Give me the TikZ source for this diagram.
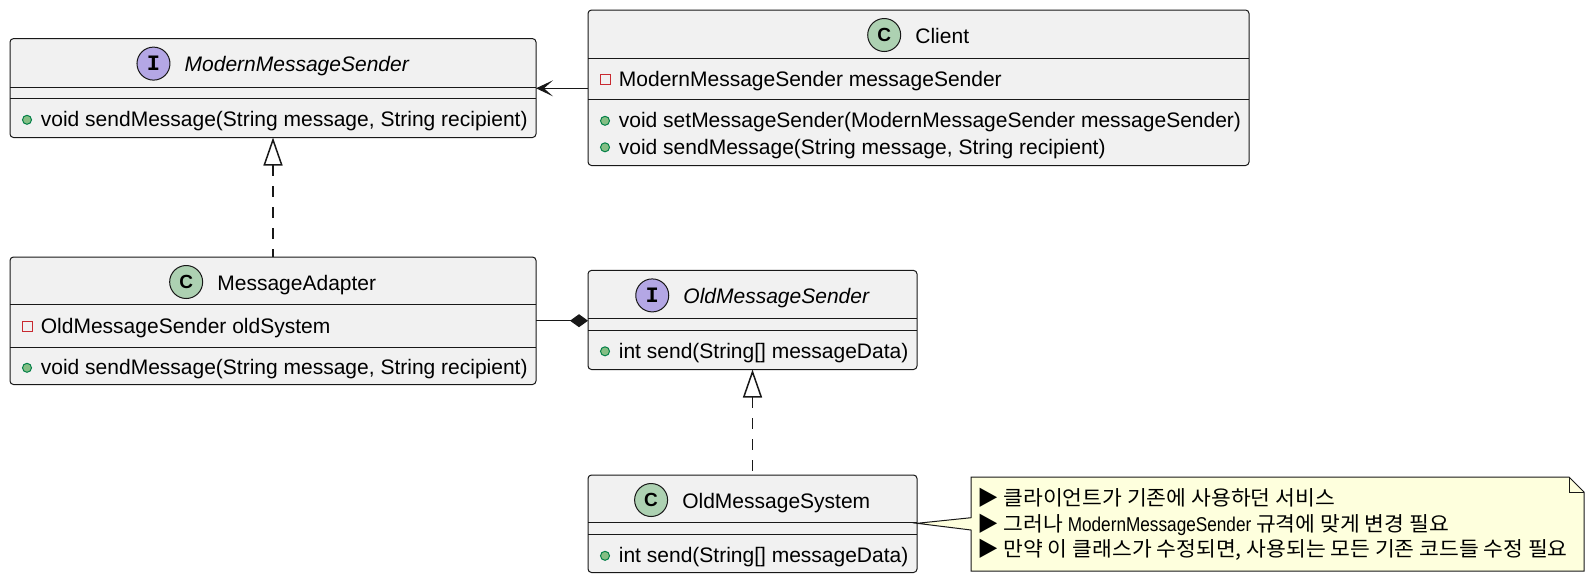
\documentclass[tikz,border=0pt]{standalone}
\usepackage{fontspec}
\setmainfont{Liberation Sans}
\newfontfamily\krfont[FakeStretch=1.05]{Noto Sans CJK KR}
\newfontfamily\narrowlatin[FakeStretch=0.86]{Liberation Sans}
\newfontfamily\spotmono{Liberation Mono}
\usetikzlibrary{arrows.meta}
\definecolor{classbg}{HTML}{F1F1F1}
\definecolor{uborder}{HTML}{181818}
\definecolor{notebg}{HTML}{FEFFDD}
\definecolor{spotc}{HTML}{ADD1B2}
\definecolor{spoti}{HTML}{B4A7E5}
\definecolor{privred}{HTML}{C82930}
\definecolor{pubfill}{HTML}{84BE84}
\definecolor{publine}{HTML}{038048}
\tikzset{
  classbox/.style={draw=uborder, fill=classbg, line width=1pt, rounded corners=3.5pt, anchor=north west, inner sep=0pt, outer sep=0pt},
  seprule/.style={draw=uborder, line width=1pt},
  member/.style={anchor=base west, inner sep=0pt, font=\fontsize{21}{25}\selectfont},
  cname/.style={anchor=base, inner sep=0pt, font=\fontsize{21}{25}\selectfont},
  iname/.style={anchor=base, inner sep=0pt, font=\fontsize{21}{25}\selectfont\itshape},
  spot/.style={circle, draw=uborder, line width=1pt, minimum size=33pt, inner sep=0pt},
  cletter/.style={spot, fill=spotc, font=\fontsize{19}{19}\selectfont\bfseries},
  iletter/.style={spot, fill=spoti, font=\spotmono\fontsize{22}{22}\selectfont\bfseries},
  privicon/.style={draw=privred, line width=1pt, minimum size=10pt, inner sep=0pt, outer sep=0pt},
  pubicon/.style={circle, draw=publine, fill=pubfill, line width=1pt, minimum size=9pt, inner sep=0pt},
  link/.style={draw=uborder, line width=1.5pt},
  realize/.style={link, dash pattern=on 10.5pt off 10.5pt, {Triangle[length=28pt, width=19pt, fill=white, line width=1.5pt]}-},
  assoc/.style={link, -{Stealth[length=17pt, width=16pt, inset=9pt, fill=uborder]}},
  compose/.style={link, -{Diamond[length=18pt, width=13pt, fill=uborder]}},
  notetxt/.style={anchor=base west, inner sep=0pt, font=\krfont\fontsize{20.5}{25}\selectfont},
}
\newcommand{\notelatin}[1]{{\narrowlatin\fontsize{20}{25}\selectfont #1}}
\begin{document}
\begin{tikzpicture}[x=1pt, y=-1pt]
\useasboundingbox (0,0) rectangle (1594,582);

% ---------- ModernMessageSender ----------
\node[classbox, minimum width=526pt, minimum height=98.9pt] (mms) at (10,38.6) {};
\draw[seprule] (mms.west |- 0,87) -- (mms.east |- 0,87);
\draw[seprule] (mms.west |- 0,98) -- (mms.east |- 0,98);
\node[iname] (mmsname) at (296.75,71.6) {ModernMessageSender};
\path (mmsname.base west) ++(-31pt,8pt) node[iletter] (mmsspot) {I};
\node[pubicon] (mmsm1i) at (27,119.8) {};
\node[member] (mmsm1) at (40.7,126.5) {void sendMessage(String message, String recipient)};

% ---------- Client ----------
\node[classbox, minimum width=661pt, minimum height=155.5pt] (client) at (588,10) {};
\draw[seprule] (client.west |- 0,58) -- (client.east |- 0,58);
\draw[seprule] (client.west |- 0,99) -- (client.east |- 0,99);
\node[cname] (clientname) at (942.25,43) {Client};
\path (clientname.base west) ++(-31pt,8pt) node[cletter] (clientspot) {C};
\node[privicon] (clienta1i) at (605,79) {};
\node[member] (clienta1) at (618.7,86) {ModernMessageSender messageSender};
\node[pubicon] (clientm1i) at (605,120.8) {};
\node[member] (clientm1) at (618.7,127.5) {void setMessageSender(ModernMessageSender messageSender)};
\node[pubicon] (clientm2i) at (605,147.3) {};
\node[member] (clientm2) at (618.7,154) {void sendMessage(String message, String recipient)};

% ---------- MessageAdapter ----------
\node[classbox, minimum width=526pt, minimum height=127.5pt] (ma) at (10,257) {};
\draw[seprule] (ma.west |- 0,304.5) -- (ma.east |- 0,304.5);
\draw[seprule] (ma.west |- 0,347) -- (ma.east |- 0,347);
\node[cname] (maname) at (296.75,290) {MessageAdapter};
\path (maname.base west) ++(-31pt,8pt) node[cletter] (maspot) {C};
\node[privicon] (maa1i) at (27,326.5) {};
\node[member] (maa1) at (40.7,333.5) {OldMessageSender oldSystem};
\node[pubicon] (mam1i) at (27,367.8) {};
\node[member] (mam1) at (40.7,374.5) {void sendMessage(String message, String recipient)};

% ---------- OldMessageSender ----------
\node[classbox, minimum width=329pt, minimum height=99.1pt] (omsender) at (588,270.4) {};
\draw[seprule] (omsender.west |- 0,318.4) -- (omsender.east |- 0,318.4);
\draw[seprule] (omsender.west |- 0,330.5) -- (omsender.east |- 0,330.5);
\node[iname] (omsendername) at (776.25,303.4) {OldMessageSender};
\path (omsendername.base west) ++(-31pt,8pt) node[iletter] (omsenderspot) {I};
\node[pubicon] (omsenderm1i) at (605,351.3) {};
\node[member] (omsenderm1) at (618.7,358) {int send(String[] messageData)};

% ---------- OldMessageSystem ----------
\node[classbox, minimum width=329pt, minimum height=97.5pt] (omsys) at (588,475) {};
\draw[seprule] (omsys.west |- 0,522.8) -- (omsys.east |- 0,522.8);
\draw[seprule] (omsys.west |- 0,534.6) -- (omsys.east |- 0,534.6);
\node[cname] (omsysname) at (776.25,508) {OldMessageSystem};
\path (omsysname.base west) ++(-31pt,8pt) node[cletter] (omsysspot) {C};
\node[pubicon] (omsysm1i) at (605,555.8) {};
\node[member] (omsysm1) at (618.7,562.5) {int send(String[] messageData)};

% ---------- Note ----------
\node[minimum width=613pt, minimum height=94pt, anchor=north west, inner sep=0pt, outer sep=0pt] (note) at (971,477) {};
\draw[draw=uborder, fill=notebg, line width=1pt]
  (note.north west) -- ([xshift=-15pt]note.north east) -- ([yshift=-15pt]note.north east)
  -- (note.south east) -- (note.south west) -- (note.west |- 0,530)
  -- (omsys.east |- 0,523.3) -- (note.west |- 0,517.7) -- cycle;
\draw[draw=uborder, line width=1pt] ([xshift=-15pt]note.north east) -- ([xshift=-15pt,yshift=-15pt]note.north east) -- ([yshift=-15pt]note.north east);
\node[notetxt] (notel1) at (977,505.5) {▶ 클라이언트가 기존에 사용하던 서비스};
\node[notetxt] (notel2) at (977,531) {▶ 그러나 \notelatin{ModernMessageSender} 규격에 맞게 변경 필요};
\node[notetxt] (notel3) at (977,556.5) {▶ 만약 이 클래스가 수정되면, 사용되는 모든 기존 코드들 수정 필요};

% ---------- Connectors ----------
\draw[assoc] (client.west |- 0,88.3) -- (mms.east |- 0,88.3);
\draw[realize] (mms.south) -- (ma.north);
\draw[compose] (ma.east |- 0,320.7) -- (omsender.west |- 0,320.7);
\draw[realize] (omsender.south) -- (omsys.north);
\end{tikzpicture}
\end{document}
